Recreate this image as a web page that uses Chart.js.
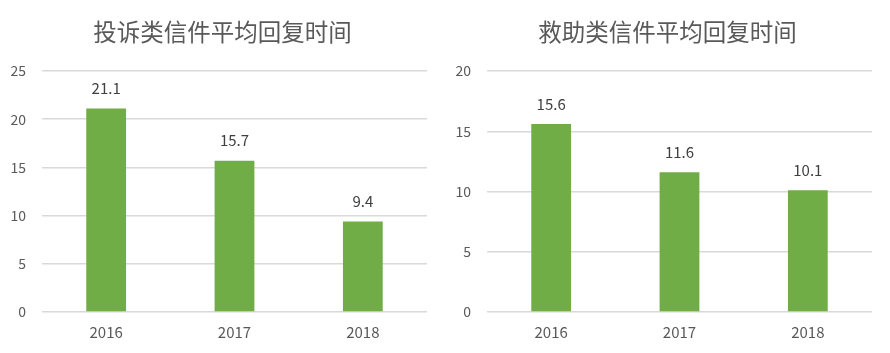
<!DOCTYPE html>
<html>
<head>
<meta charset="utf-8">
<script src="https://cdn.jsdelivr.net/npm/chart.js@4"></script>
<style>
    html, body { margin: 0; padding: 0; background: #fff; }
    .wrap { display: flex; width: 890px; height: 353px; }
    .box { position: relative; width: 445px; height: 353px; }
</style>
</head>
<body>
<div class="wrap">
    <div class="box"><canvas id="chart1"></canvas></div>
    <div class="box"><canvas id="chart2"></canvas></div>
</div>
<script>
// data
const years = ['2016', '2017', '2018'];
const complaintDays = [21.1, 15.7, 9.4];
const rescueDays = [15.6, 11.6, 10.1];
const complaintTitle = '投诉类信件平均回复时间';
const rescueTitle = '救助类信件平均回复时间';
const complaintMax = 25;
const rescueMax = 20;
const tickStep = 5;

const FONT = '"Noto Sans CJK SC", "Noto Sans", sans-serif';
const GREEN = '#70AD47';

// draws the value above each bar
const valueLabels = {
    id: 'valueLabels',
    afterDatasetsDraw(chart) {
        const ctx = chart.ctx;
        const meta = chart.getDatasetMeta(0);
        ctx.save();
        ctx.font = '15px ' + FONT;
        ctx.fillStyle = '#404040';
        ctx.textAlign = 'center';
        ctx.textBaseline = 'middle';
        meta.data.forEach((bar, i) => {
            ctx.fillText(chart.data.datasets[0].data[i].toFixed(1), bar.x, bar.y - 20);
        });
        ctx.restore();
    }
};

// title centred on the whole canvas, not on the padded area
const centredTitle = {
    id: 'centredTitle',
    afterDraw(chart, args, opts) {
        const ctx = chart.ctx;
        ctx.save();
        ctx.font = '23.5px ' + FONT;
        ctx.fillStyle = '#595959';
        ctx.textAlign = 'center';
        ctx.textBaseline = 'middle';
        ctx.fillText(opts.text, chart.width / 2, 32);
        ctx.restore();
    }
};

function makeChart(id, title, values, max) {
    const ctx = document.getElementById(id).getContext('2d');
    return new Chart(ctx, {
        type: 'bar',
        data: {
            labels: years,
            datasets: [{
                data: values,
                backgroundColor: GREEN,
                borderWidth: 0,
                categoryPercentage: 1,
                barPercentage: 0.31
            }]
        },
        options: {
            responsive: true,
            maintainAspectRatio: false,
            animation: false,
            layout: { padding: { left: 0, right: 18, top: 71, bottom: 1 } },
            plugins: {
                legend: { display: false },
                tooltip: { enabled: false },
                title: { display: false },
                centredTitle: { text: title }
            },
            scales: {
                x: {
                    grid: { display: false, drawTicks: false },
                    border: { display: false },
                    ticks: { color: '#595959', font: { family: FONT, size: 15 }, padding: 11 }
                },
                y: {
                    min: 0,
                    max: max,
                    afterFit: s => { s.width = 42; },
                    grid: { color: '#d9d9d9', lineWidth: 1.5, drawTicks: false },
                    border: { display: false },
                    ticks: { stepSize: tickStep, color: '#595959', font: { family: FONT, size: 14 }, padding: 16 }
                }
            }
        },
        plugins: [valueLabels, centredTitle]
    });
}

makeChart('chart1', complaintTitle, complaintDays, complaintMax);
makeChart('chart2', rescueTitle, rescueDays, rescueMax);
</script>
</body>
</html>
